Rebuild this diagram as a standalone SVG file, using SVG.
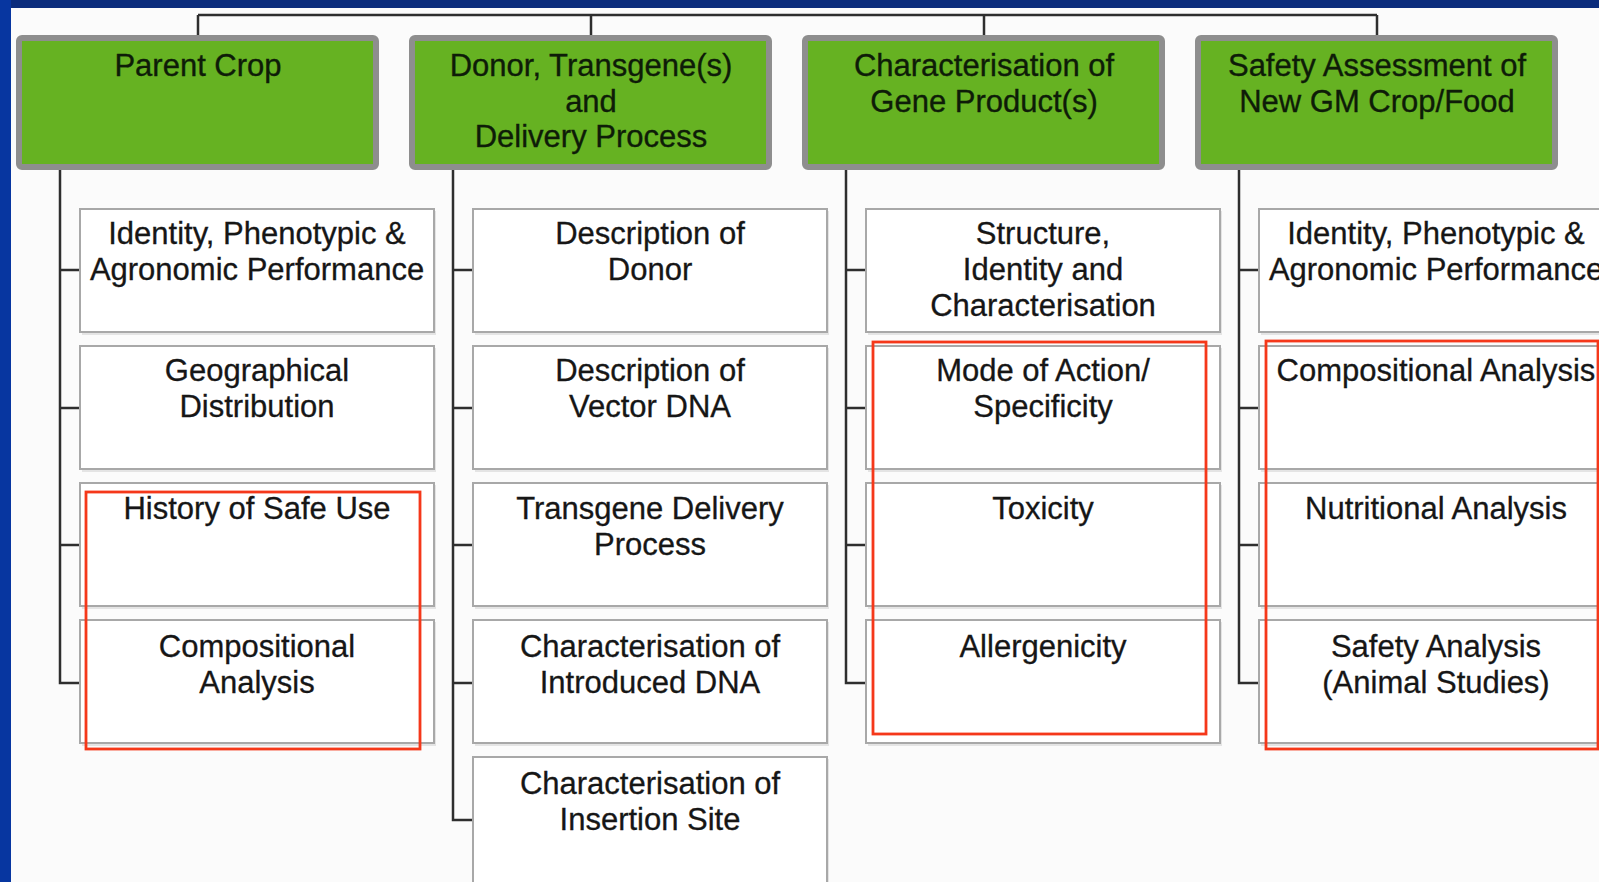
<svg xmlns="http://www.w3.org/2000/svg" width="1599" height="882" viewBox="0 0 1599 882">
<defs>
<style>
.hdr rect{fill:#66b222;stroke:#8e8e8e;stroke-width:6}
.hdr text{font-family:"Liberation Sans",Arial,sans-serif;font-size:31px;fill:#0e1c08;stroke:#0e1c08;stroke-width:0.35;text-anchor:middle}
.box rect.b{fill:#ffffff;stroke:#a8a8a8;stroke-width:2}
.box rect.s{fill:#e4e4e4}
.box text{font-family:"Liberation Sans",Arial,sans-serif;font-size:31px;fill:#161616;stroke:#161616;stroke-width:0.3;text-anchor:middle}
.conn{fill:none;stroke:#2e2e2e;stroke-width:2.5}
.hl{fill:none;stroke:#f5381a;stroke-width:2.8}
</style>
</defs>
<rect x="0" y="0" width="1599" height="882" fill="#fbfbfb"/>
<rect x="0" y="0" width="1599" height="8" fill="#0b2c7c"/>
<rect x="0" y="0" width="11" height="882" fill="#0736a0"/>

<g id="connectors" class="conn">
<path d="M198,15 H1377 M198,15 V35 M591,15 V35 M984,15 V35 M1377,15 V35"/>
<path d="M60,170 V683 H80 M60,270 H80 M60,408 H80 M60,545 H80"/>
<path d="M453,170 V820 H473 M453,270 H473 M453,408 H473 M453,545 H473 M453,683 H473"/>
<path d="M846,170 V683 H866 M846,270 H866 M846,408 H866 M846,545 H866"/>
<path d="M1239,170 V683 H1259 M1239,270 H1259 M1239,408 H1259 M1239,545 H1259"/>
</g>

<g id="h1" class="hdr"><rect x="19" y="38" width="357" height="129" rx="3"/><text x="198" y="76">Parent Crop</text></g>
<g id="h2" class="hdr"><rect x="412" y="38" width="357" height="129" rx="3"/><text x="591" y="76">Donor, Transgene(s)</text><text x="591" y="112">and</text><text x="591" y="147">Delivery Process</text></g>
<g id="h3" class="hdr"><rect x="805" y="38" width="357" height="129" rx="3"/><text x="984" y="76">Characterisation of</text><text x="984" y="112">Gene Product(s)</text></g>
<g id="h4" class="hdr"><rect x="1198" y="38" width="357" height="129" rx="3"/><text x="1377" y="76">Safety Assessment of</text><text x="1377" y="112">New GM Crop/Food</text></g>

<g id="c1r1" class="box"><rect class="s" x="82" y="211" width="354" height="124"/><rect class="b" x="80" y="209" width="354" height="123"/><text x="257" y="244">Identity, Phenotypic &amp;</text><text x="257" y="280">Agronomic Performance</text></g>
<g id="c1r2" class="box"><rect class="s" x="82" y="348" width="354" height="124"/><rect class="b" x="80" y="346" width="354" height="123"/><text x="257" y="381">Geographical</text><text x="257" y="417">Distribution</text></g>
<g id="c1r3" class="box"><rect class="s" x="82" y="485" width="354" height="124"/><rect class="b" x="80" y="483" width="354" height="123"/><text x="257" y="519">History of Safe Use</text></g>
<g id="c1r4" class="box"><rect class="s" x="82" y="622" width="354" height="124"/><rect class="b" x="80" y="620" width="354" height="123"/><text x="257" y="657">Compositional</text><text x="257" y="693">Analysis</text></g>

<g id="c2r1" class="box"><rect class="s" x="475" y="211" width="354" height="124"/><rect class="b" x="473" y="209" width="354" height="123"/><text x="650" y="244">Description of</text><text x="650" y="280">Donor</text></g>
<g id="c2r2" class="box"><rect class="s" x="475" y="348" width="354" height="124"/><rect class="b" x="473" y="346" width="354" height="123"/><text x="650" y="381">Description of</text><text x="650" y="417">Vector DNA</text></g>
<g id="c2r3" class="box"><rect class="s" x="475" y="485" width="354" height="124"/><rect class="b" x="473" y="483" width="354" height="123"/><text x="650" y="519">Transgene Delivery</text><text x="650" y="555">Process</text></g>
<g id="c2r4" class="box"><rect class="s" x="475" y="622" width="354" height="124"/><rect class="b" x="473" y="620" width="354" height="123"/><text x="650" y="657">Characterisation of</text><text x="650" y="693">Introduced DNA</text></g>
<g id="c2r5" class="box"><rect class="s" x="475" y="759" width="354" height="140"/><rect class="b" x="473" y="757" width="354" height="140"/><text x="650" y="794">Characterisation of</text><text x="650" y="830">Insertion Site</text></g>

<g id="c3r1" class="box"><rect class="s" x="868" y="211" width="354" height="124"/><rect class="b" x="866" y="209" width="354" height="123"/><text x="1043" y="244">Structure,</text><text x="1043" y="280">Identity and</text><text x="1043" y="316">Characterisation</text></g>
<g id="c3r2" class="box"><rect class="s" x="868" y="348" width="354" height="124"/><rect class="b" x="866" y="346" width="354" height="123"/><text x="1043" y="381">Mode of Action/</text><text x="1043" y="417">Specificity</text></g>
<g id="c3r3" class="box"><rect class="s" x="868" y="485" width="354" height="124"/><rect class="b" x="866" y="483" width="354" height="123"/><text x="1043" y="519">Toxicity</text></g>
<g id="c3r4" class="box"><rect class="s" x="868" y="622" width="354" height="124"/><rect class="b" x="866" y="620" width="354" height="123"/><text x="1043" y="657">Allergenicity</text></g>

<g id="c4r1" class="box"><rect class="s" x="1261" y="211" width="354" height="124"/><rect class="b" x="1259" y="209" width="354" height="123"/><text x="1436" y="244">Identity, Phenotypic &amp;</text><text x="1436" y="280">Agronomic Performance</text></g>
<g id="c4r2" class="box"><rect class="s" x="1261" y="348" width="354" height="124"/><rect class="b" x="1259" y="346" width="354" height="123"/><text x="1436" y="381">Compositional Analysis</text></g>
<g id="c4r3" class="box"><rect class="s" x="1261" y="485" width="354" height="124"/><rect class="b" x="1259" y="483" width="354" height="123"/><text x="1436" y="519">Nutritional Analysis</text></g>
<g id="c4r4" class="box"><rect class="s" x="1261" y="622" width="354" height="124"/><rect class="b" x="1259" y="620" width="354" height="123"/><text x="1436" y="657">Safety Analysis</text><text x="1436" y="693">(Animal Studies)</text></g>

<g id="highlights" class="hl">
<rect x="86" y="492" width="334" height="257"/>
<rect x="873" y="342" width="333" height="392"/>
<rect x="1266" y="341" width="332" height="408"/>
</g>
</svg>
